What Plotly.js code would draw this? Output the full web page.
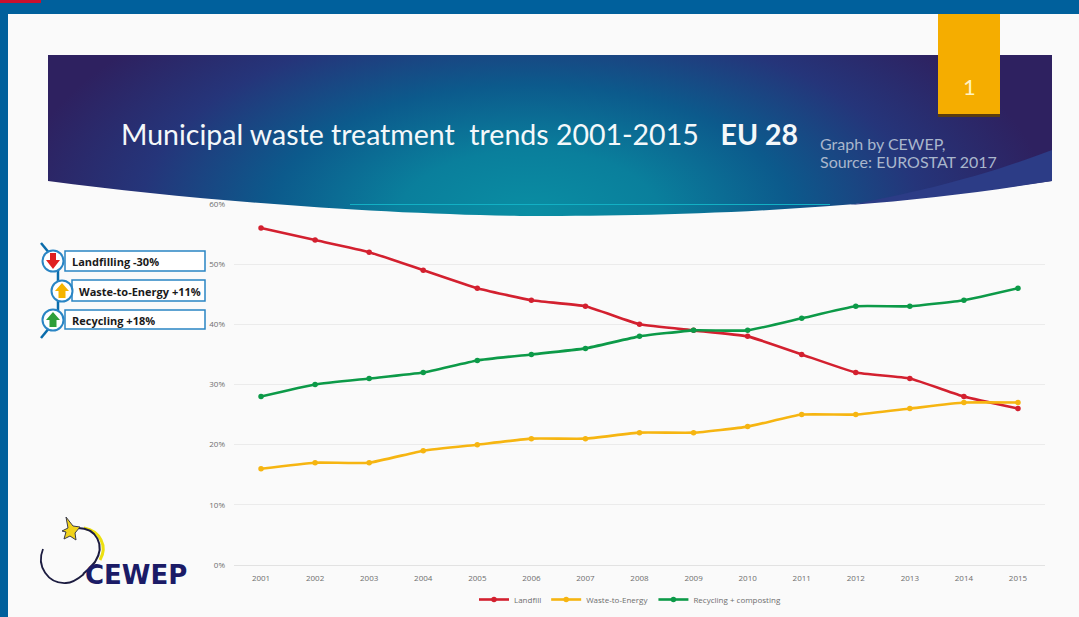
<!DOCTYPE html>
<html>
<head>
<meta charset="utf-8">
<script src="https://cdn.plot.ly/plotly-3.0.1.min.js"></script>
<style>html,body{margin:0;padding:0;background:#fafafa}#chart{width:1079px;height:617px}</style>
</head>
<body>
<div id="chart"></div>
<script>
const years = [2001,2002,2003,2004,2005,2006,2007,2008,2009,2010,2011,2012,2013,2014,2015];
const landfill = [56,54,52,49,46,44,43,40,39,38,35,32,31,28,26];
const wasteToEnergy = [16,17,17,19,20,21,21,22,22,23,25,25,26,27,27];
const recycling = [28,30,31,32,34,35,36,38,39,39,41,43,43,44,46];
const yTicks = [0,10,20,30,40,50,60];

const W = 1079, H = 617;
const M = {l:234, r:34, t:204, b:52, autoexpand:false};

// Page pixels to paper fractions, for the slide furniture around the plot
const px = x => (x - M.l) / (W - M.l - M.r);
const py = y => 1 - (y - M.t) / (H - M.t - M.b);
const path = s => s.replace(/(-?[\d.]+),(-?[\d.]+)/g, (_, a, b) => px(+a).toFixed(5) + ',' + py(+b).toFixed(5));
const pathShape = (d, fill, line, width) => ({type:'path', xref:'paper', yref:'paper', layer:'above', path:path(d),
  fillcolor:fill || 'rgba(0,0,0,0)', line:{color:line || 'rgba(0,0,0,0)', width:width || 0}});
const rect = (x0,y0,x1,y1,fill,line,width,layer) => ({type:'rect', xref:'paper', yref:'paper', layer:layer||'above',
  x0:px(x0), x1:px(x1), y0:py(y0), y1:py(y1), fillcolor:fill, line:{color:line||'rgba(0,0,0,0)', width:width||0}});
const circle = (cx,cy,r,fill,line,width) => ({type:'circle', xref:'paper', yref:'paper', layer:'above',
  x0:px(cx-r), x1:px(cx+r), y0:py(cy+r), y1:py(cy-r), fillcolor:fill, line:{color:line, width:width}});
const label = (x,y,text,size,color,family,anchor) => ({xref:'paper', yref:'paper', x:px(x), y:py(y), text:text, showarrow:false,
  xanchor:anchor||'left', yanchor:'middle', font:{size:size, color:color, family:family}, align:'left'});

// Banner with its teal-to-violet wash and curved lower edge
const bannerSvg = `<svg xmlns="http://www.w3.org/2000/svg" width="1079" height="617" viewBox="0 0 1079 617">
<defs><radialGradient id="g" gradientUnits="userSpaceOnUse" cx="530" cy="215" r="520" gradientTransform="translate(530 215) scale(1 0.5) translate(-530 -215)">
<stop offset="0" stop-color="#0a8ea3"/><stop offset="0.25" stop-color="#0a7f9c"/><stop offset="0.5" stop-color="#0c5a8c"/>
<stop offset="0.75" stop-color="#25357a"/><stop offset="1" stop-color="#2e2160"/></radialGradient></defs>
<path d="M48,55 L1052,55 L1052,181 C960,194 880,203 800,208 C700,215 600,216 520,216 C380,214 200,201 48,181 Z" fill="url(#g)"/>
<path d="M1052,150 C1000,170 940,188 850,205 C920,200 990,191 1052,181 Z" fill="#2c3c86"/>
<path d="M350,204.5 L830,204.5" stroke="#12b0c4" stroke-width="1"/>
</svg>`;

const shapes = [
  rect(0,0,1079,14,'#00609c',null,0,'below'),
  rect(0,0,8,617,'#00609c',null,0,'below'),
  rect(0,0,41,3,'#c8102e',null,0,'below'),
  // Bookmark tab
  rect(938,14,1000,117,'#f5ad00'),
  rect(938,114,1000,117,'#5a3c10'),
  // Callout spine
  pathShape('M41,243 L50,254', null, '#0a6cab', 2.5),
  pathShape('M58,270 L58,281', null, '#0a6cab', 2.5),
  pathShape('M58,300 L58,311', null, '#0a6cab', 2.5),
  pathShape('M41,338 L50,327', null, '#0a6cab', 2.5),
  // Callout boxes
  rect(65,251,205,271,'#ffffff','#2a85c4',1.5),
  rect(72,280,205,301,'#ffffff','#2a85c4',1.5),
  rect(65,310,205,329,'#ffffff','#2a85c4',1.5),
  circle(53,261,10.5,'#ffffff','#2a85c4',2),
  circle(62,291,10.5,'#ffffff','#2a85c4',2),
  circle(53,320,10.5,'#ffffff','#2a85c4',2),
  // Arrow icons
  pathShape('M50,253 L56,253 L56,260 L60,260 L53,269 L46,260 L50,260 Z', '#e02020'),
  pathShape('M62,283 L69,291 L65.5,291 L65.5,298 L58.5,298 L58.5,291 L55,291 Z', '#f5b400'),
  pathShape('M53,312 L60,320 L56.5,320 L56.5,327 L49.5,327 L49.5,320 L46,320 Z', '#2f9e3a'),
  // Logo swooshes and star
  pathShape('M84,528 C100,531 108,546 100,560', null, '#ece010', 3),
  pathShape('M78,528 C96,528 106,545 95,562 C91,567 87,571 83,574', null, '#1c1c40', 2),
  pathShape('M43,549 C36,566 48,584 66,583 C72,583 78,579 84,574', null, '#1c1c40', 1.8),
  pathShape('M66,517 L73,526 L80,527 L75,533 L76,540 L70,536 L64,539 L66,532 L62,531 L68,528 Z', '#f1d21a', '#3a3a4a', 1)
];

const annotations = [
  label(119,134,'Municipal waste treatment\u00a0\u00a0trends 2001-2015\u00a0\u00a0\u00a0<b>EU 28</b>',28.5,'#f4f8fa','Lato'),
  label(818,143,'Graph by CEWEP,',16,'#a9b6cc','Lato'),
  label(818,161,'Source: EUROSTAT 2017',16,'#a9b6cc','Lato'),
  label(969,86,'1',22,'#fff3c4','Lato','center'),
  label(70,261,'<b>Landfilling -30%</b>',11,'#1a1a1a','"Open Sans"'),
  label(77,291,'<b>Waste-to-Energy +11%</b>',11,'#1a1a1a','"Open Sans"'),
  label(70,320,'<b>Recycling +18%</b>',11,'#1a1a1a','"Open Sans"'),
  label(83,575,'<b>CEWEP</b>',26,'#1b1b66','"DejaVu Sans"')
];

const series = (name, values, color) => ({
  x: years, y: values, name: name, type: 'scatter', mode: 'lines+markers',
  line: {color: color, width: 2.6, shape: 'spline', smoothing: 0.4},
  marker: {color: color, size: 5.5}
});

const traces = [
  series('Landfill', landfill, '#d3202f'),
  series('Waste-to-Energy', wasteToEnergy, '#f6b511'),
  series('Recycling + composting', recycling, '#0c9a48')
];

const layout = {
  width: W, height: H,
  margin: M,
  paper_bgcolor: '#fafafa', plot_bgcolor: 'rgba(0,0,0,0)',
  font: {family: '"Open Sans", sans-serif', size: 8, color: '#6e6e6e'},
  showlegend: true,
  legend: {orientation:'h', x:px(630), xanchor:'center', y:py(585), yanchor:'top',
    bgcolor:'rgba(0,0,0,0)', font:{size:8, color:'#6e6e6e'}, traceorder:'normal'},
  xaxis: {range:[2000.5,2015.5], tickmode:'array', tickvals:years, ticktext:years.map(String), ticks:'',
    showgrid:false, zeroline:false, showline:true, linecolor:'#e2e2e2', linewidth:1, tickfont:{size:8}, ticklen:0, ticklabelstandoff:5},
  yaxis: {range:[0,60], tickmode:'array', tickvals:yTicks, ticktext:yTicks.map(v => v + '%'), ticks:'',
    showgrid:true, gridcolor:'#ebebeb', gridwidth:1, zeroline:false, showline:false, tickfont:{size:8}, ticklabelstandoff:8},
  images: [{source:'data:image/svg+xml;charset=utf-8,' + encodeURIComponent(bannerSvg), xref:'paper', yref:'paper',
    x:px(0), y:py(0), sizex:W/(W-M.l-M.r), sizey:H/(H-M.t-M.b), xanchor:'left', yanchor:'top', sizing:'stretch', layer:'above'}],
  shapes: shapes,
  annotations: annotations
};

Plotly.newPlot('chart', traces, layout, {displayModeBar:false, responsive:false});
</script>
</body>
</html>
